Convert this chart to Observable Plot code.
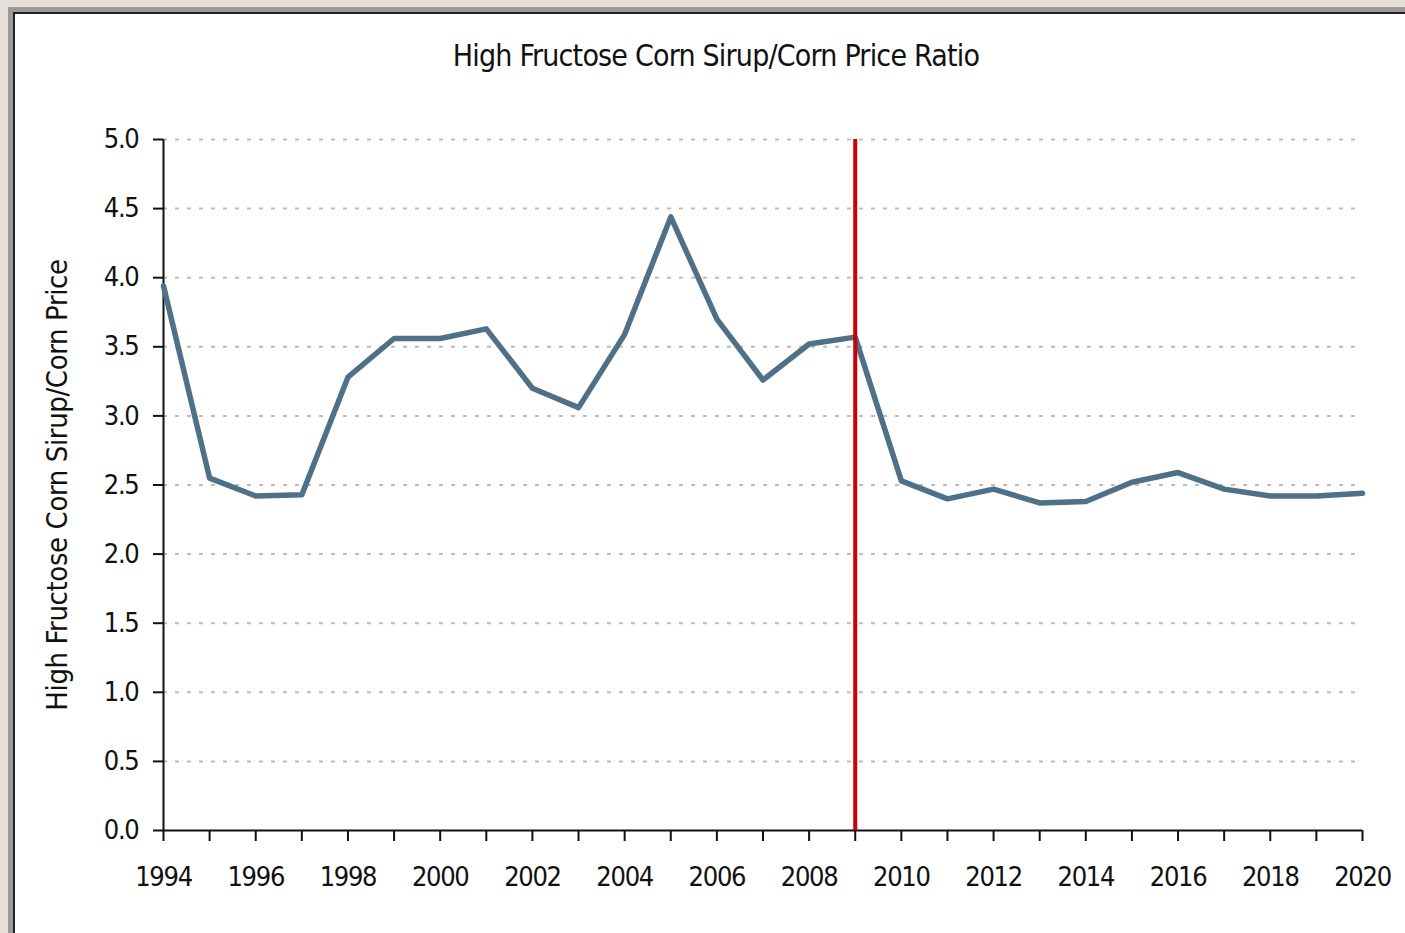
<!DOCTYPE html>
<html><head><meta charset="utf-8">
<script src="https://cdn.jsdelivr.net/npm/d3@7"></script>
<script src="https://cdn.jsdelivr.net/npm/@observablehq/plot@0.6"></script>
<style>
body{margin:0;width:1405px;height:933px;overflow:hidden;background:#e4e0d8;font-family:"DejaVu Sans Condensed","Liberation Sans Narrow",sans-serif;position:relative;}
#frame{position:absolute;left:8px;top:7px;width:1420px;height:940px;background:#9a9a9a;}
#inner{position:absolute;left:5px;top:5px;right:0;bottom:0;background:#222;}
#white{position:absolute;left:2px;top:2px;right:0;bottom:0;background:#fff;}
#title{position:absolute;left:316px;width:800px;top:41px;font-size:30px;line-height:30px;text-align:center;color:#111;letter-spacing:-0.8px;}
#chart{position:absolute;left:0;top:90px;}
</style></head>
<body>
<div id="frame"><div id="inner"><div id="white"></div></div></div>
<div id="title">High Fructose Corn Sirup/Corn Price Ratio</div>
<div id="chart"></div>
<script>
const years = [1994,1995,1996,1997,1998,1999,2000,2001,2002,2003,2004,2005,2006,2007,2008,2009,2010,2011,2012,2013,2014,2015,2016,2017,2018,2019,2020];
const ratio = [3.94,2.55,2.42,2.43,3.28,3.56,3.56,3.63,3.20,3.06,3.59,4.44,3.70,3.26,3.52,3.57,2.53,2.40,2.47,2.37,2.38,2.52,2.59,2.47,2.42,2.42,2.44];
const yTicks = [0,0.5,1,1.5,2,2.5,3,3.5,4,4.5,5];
const xLabelYears = [1994,1996,1998,2000,2002,2004,2006,2008,2010,2012,2014,2016,2018,2020];
const policyYear = [2009];
const yLabel = "High Fructose Corn Sirup/Corn Price";

const data = years.map((yr, i) => ({year: yr, ratio: ratio[i]}));
const font = '"DejaVu Sans Condensed","Liberation Sans Narrow",sans-serif';

const chart = Plot.plot({
  width: 1405,
  height: 843,
  marginLeft: 163,
  marginRight: 43,
  marginTop: 49,
  marginBottom: 103,
  style: {background: "transparent", fontFamily: font, fontSize: "27px", color: "#111", letterSpacing: "-1.3px"},
  x: {domain: [1994, 2020]},
  y: {domain: [0, 5]},
  marks: [
    Plot.ruleY(yTicks.filter(d => d > 0), {stroke: "#bdbdbd", strokeWidth: 2, strokeDasharray: "4,8"}),
    Plot.axisY({ticks: yTicks, tickSize: 10, tickPadding: 15, tickFormat: d3.format(".1f"), label: null, strokeWidth: 2, fontSize: 27}),
    Plot.axisX({ticks: years, tickSize: 11, tickPadding: 25, tickFormat: d => xLabelYears.includes(d) ? String(d) : "", label: null, strokeWidth: 2, fontSize: 27}),
    Plot.ruleX([1994], {stroke: "#111", strokeWidth: 2}),
    Plot.ruleY([0], {stroke: "#111", strokeWidth: 2}),
    Plot.line(data, {x: "year", y: "ratio", stroke: "#4e7187", strokeWidth: 5.5, strokeLinecap: "round", strokeLinejoin: "round"}),
    Plot.ruleX(policyYear, {y1: 0, y2: 5, stroke: "#cc0000", strokeWidth: 4}),
    Plot.text([yLabel], {frameAnchor: "left", textAnchor: "middle", lineAnchor: "middle", rotate: -90, dx: -106, fontSize: 29, fill: "#111"})
  ]
});
chart.querySelectorAll("text").forEach(t => {
  if (t.textContent === yLabel) t.style.letterSpacing = "-0.4px";
});
document.getElementById("chart").appendChild(chart);
</script>
</body></html>
